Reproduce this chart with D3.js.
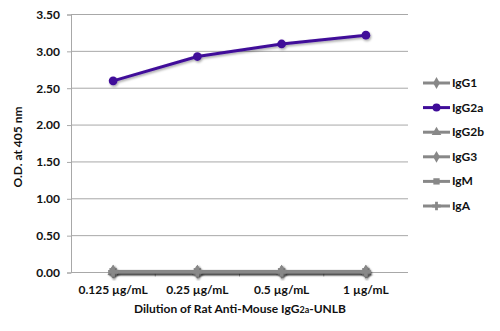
<!DOCTYPE html>
<html><head><meta charset="utf-8">
<script src="https://cdn.jsdelivr.net/npm/d3@7"></script>
<style>
body{margin:0;background:#fff;}
svg{display:block;font-family:"Lato","Open Sans",sans-serif;font-weight:bold;}
</style></head>
<body><svg id="c" width="500" height="331"></svg>
<script>
const categories = ["0.125 µg/mL","0.25 µg/mL","0.5 µg/mL","1 µg/mL"];
const seriesNames = ["IgG1","IgG2a","IgG2b","IgG3","IgM","IgA"];
const IgG1  = [0.01,0.01,0.01,0.01];
const IgG2a = [2.60,2.93,3.10,3.22];
const IgG2b = [0.01,0.01,0.01,0.01];
const IgG3  = [0.01,0.01,0.01,0.01];
const IgM   = [0.01,0.01,0.01,0.01];
const IgA   = [0.01,0.01,0.01,0.01];
const yTicks = [0,0.5,1,1.5,2,2.5,3,3.5];
const seriesValues = [IgG1,IgG2a,IgG2b,IgG3,IgM,IgA];
const colors = ["#888888","#3f0c99","#888888","#888888","#888888","#888888"];
const symbols = [d3.symbolDiamond,d3.symbolCircle,d3.symbolTriangle,d3.symbolDiamond,d3.symbolSquare,d3.symbolCross];

const svg = d3.select("#c");
const L=71, R=408, T=14.5, B=272.5;
const FS = 12;
const x = d3.scalePoint().domain(categories).range([L,R]).padding(0.5);
const y = d3.scaleLinear().domain([0,3.5]).range([B,T]);

// gridlines
svg.append("g").selectAll("line").data(yTicks).join("line")
  .attr("x1",L).attr("x2",R).attr("y1",d=>y(d)).attr("y2",d=>y(d))
  .attr("stroke","#a8a8a8").attr("stroke-width",1);

// y axis
const ya = svg.append("g").attr("transform",`translate(${L},0)`)
  .call(d3.axisLeft(y).tickValues(yTicks).tickFormat(d3.format(".2f")).tickSize(4).tickPadding(7));
ya.select(".domain").attr("stroke","#a8a8a8");
ya.selectAll(".tick line").attr("stroke","#a8a8a8");
ya.selectAll("text").attr("font-size",FS).attr("font-family","Lato, sans-serif").attr("font-weight","bold").attr("fill","#111");

// x axis
const step = x.step();
const xa = svg.append("g").attr("transform",`translate(0,${B})`);
xa.append("line").attr("x1",L).attr("x2",R).attr("stroke","#a8a8a8");
xa.selectAll("line.tk").data(categories.slice(1)).join("line").attr("class","tk")
  .attr("x1",d=>x(d)-step/2).attr("x2",d=>x(d)-step/2).attr("y1",0).attr("y2",4).attr("stroke","#a8a8a8");
xa.selectAll("text").data(categories).join("text")
  .attr("x",d=>x(d)).attr("y",21).attr("text-anchor","middle")
  .attr("font-size",FS).attr("fill","#111").text(d=>d);

// series
const line = d3.line().x((d,i)=>x(categories[i])).y(d=>y(d));
const defs = svg.append("defs");
defs.append("filter").attr("id","sh").append("feDropShadow")
  .attr("dx",1).attr("dy",1.5).attr("stdDeviation",1).attr("flood-color","#000").attr("flood-opacity",0.35);
const order = [0,2,3,4,5,1];
order.forEach(si=>{
  const g = svg.append("g").attr("filter","url(#sh)");
  g.append("path").datum(seriesValues[si]).attr("d",line).attr("fill","none")
    .attr("stroke",colors[si]).attr("stroke-width",3);
  g.selectAll("path.m").data(seriesValues[si]).join("path").attr("class","m")
    .attr("transform",(d,i)=>`translate(${x(categories[i])},${y(d)})`)
    .attr("d",d3.symbol().type(symbols[si]).size(si===1?60:55))
    .attr("fill",colors[si]);
});

// legend
const lg = svg.append("g");
seriesNames.forEach((n,i)=>{
  const yy = 83 + i*24.6;
  lg.append("line").attr("x1",423).attr("x2",450).attr("y1",yy).attr("y2",yy)
    .attr("stroke",colors[i]).attr("stroke-width",3);
  lg.append("path").attr("transform",`translate(436.5,${yy})`)
    .attr("d",d3.symbol().type(symbols[i]).size(i===1?50:40)).attr("fill",colors[i]);
  lg.append("text").attr("x",452).attr("y",yy+4).attr("font-size",FS).attr("fill","#111").text(n);
});

// axis titles
svg.append("text").attr("transform","translate(22,147) rotate(-90)").attr("text-anchor","middle")
  .attr("font-size",FS).attr("fill","#111").text("O.D. at 405 nm");
const xt = svg.append("text").attr("x",240).attr("y",313).attr("text-anchor","middle")
  .attr("font-size",FS).attr("fill","#111");
xt.append("tspan").text("Dilution of Rat Anti-Mouse IgG");
xt.append("tspan").attr("font-size",9).text("2a");
xt.append("tspan").text("-UNLB");
</script></body></html>
